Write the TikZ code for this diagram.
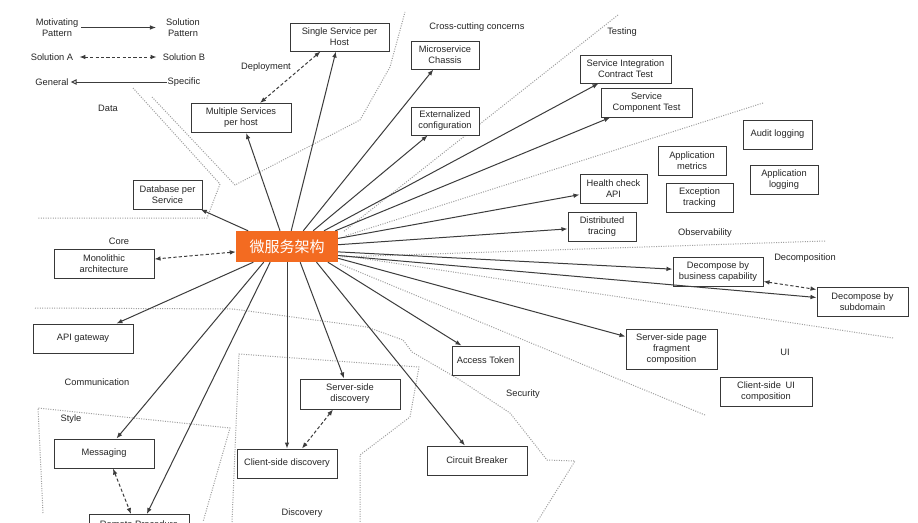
\documentclass[tikz,border=0pt]{standalone}
\usepackage{fontspec}
\setmainfont{Liberation Sans}
\newfontfamily\cjkfont{Noto Sans CJK SC}
\usetikzlibrary{arrows.meta,shadows,calc}

\definecolor{hub}{HTML}{F36B21}
\definecolor{ink}{HTML}{262626}
\definecolor{wire}{HTML}{3C3C3C}

\begin{document}
\begin{tikzpicture}[x=1pt,y=-1pt,
  every node/.style={font=\fontsize{9.3}{11}\selectfont, text=ink},
  lbl/.style={inner sep=1pt, align=center},
  pbox/.style={draw=black!78, line width=1pt, fill=white, align=center,
    inner sep=1pt, minimum height=29pt,
    drop shadow={shadow xshift=0.9pt,shadow yshift=-0.9pt,fill=black!45,opacity=0.55}},
  arr/.style={draw=wire, line width=1pt, -{Latex[length=6pt,width=4.6pt]}},
  dbl/.style={draw=wire, line width=1pt, dash pattern=on 3.2pt off 2.2pt,
    {Latex[length=6pt,width=4.6pt]}-{Latex[length=6pt,width=4.6pt]}},
  gen/.style={draw=wire, line width=1pt, -{Triangle[open,length=6pt,width=5.5pt]}},
  zone/.style={draw=black!38, line width=1pt, dash pattern=on 1pt off 1.4pt}
]
\clip (0,0) rectangle (918,522);
\useasboundingbox (0,0) rectangle (918,522);
\fill[white] (0,0) rectangle (918,522);

% ---- dotted zone boundaries ----
\draw[zone] (133,88) -- (220,184) -- (207,218) -- (38,218);
\draw[zone] (152,97) -- (235,185) -- (360,120) -- (390,67) -- (405,12);
\draw[zone] (618,15) -- (343,232);
\draw[zone] (763,103) -- (345,236);
\draw[zone] (825,241) -- (340,257);
\draw[zone] (893,338) -- (340,255);
\draw[zone] (705,415) -- (340,264);
\draw[zone] (35,308) -- (233,309) -- (367,327) -- (403,340) -- (412,352)
  -- (460,380) -- (510,413) -- (547,460) -- (575,461) -- (537,522);
\draw[zone] (232,522) -- (239,354) -- (419,367) -- (410,417) -- (360,455) -- (360,522);
\draw[zone] (43,513) -- (38,408) -- (230,428) -- (203,522);

% ---- zone titles ----
\node[lbl] (tdata) at (108,108) {Data};
\node[lbl] (tdeploy) at (266,67) {Deployment};
\node[lbl] (tcross) at (477,27) {Cross-cutting concerns};
\node[lbl] (ttest) at (622,32) {Testing};
\node[lbl] (tcore) at (119,241) {Core};
\node[lbl] (tobs) at (705,233) {Observability};
\node[lbl] (tdecomp) at (805,258) {Decomposition};
\node[lbl] (tui) at (785,352) {UI};
\node[lbl] (tcomm) at (97,382) {Communication};
\node[lbl] (tstyle) at (71,419) {Style};
\node[lbl] (tsec) at (523,394) {Security};
\node[lbl] (tdisc) at (302,513) {Discovery};

% ---- legend ----
\node[lbl] (lgm) at (57,27.5) {Motivating\\Pattern};
\node[lbl] (lgs) at (183,27.5) {Solution\\Pattern};
\node[lbl] (lga) at (52,57) {Solution A};
\node[lbl] (lgb) at (184,57) {Solution B};
\node[lbl] (lgg) at (52,82) {General};
\node[lbl] (lgp) at (184,82) {Specific};
\draw[arr] ([xshift=2pt]lgm.east) -- ([xshift=-9pt]lgs.west);
\draw[dbl] ([xshift=5pt]lga.east) -- ([xshift=-5pt]lgb.west);
\draw[gen] (lgp.west) -- ([xshift=1pt]lgg.east);

% ---- central pattern ----
\node[fill=hub, minimum width=102pt, minimum height=31pt, inner sep=0pt,
  text=white, font=\cjkfont\fontsize{15}{17}\selectfont] (c) at (287,246.5) {微服务架构};

% ---- pattern boxes ----
\node[pbox, minimum width=99pt, minimum height=28pt] (single) at (339.5,37) {Single Service per\\Host};
\node[pbox, minimum width=100pt] (mult) at (241,118) {Multiple Services\\per host};
\node[pbox, minimum width=68pt, minimum height=28pt] (chassis) at (445,55) {Microservice\\Chassis};
\node[pbox, minimum width=68pt, minimum height=28pt] (ext) at (445,121) {Externalized\\configuration};
\node[pbox, minimum width=69pt] (db) at (167.5,194.5) {Database per\\Service};
\node[pbox, minimum width=91pt, minimum height=28pt] (sict) at (625.5,69) {Service Integration\\Contract Test};
\node[pbox, minimum width=91pt] (sct) at (646.5,102.5) {Service\\Component Test};
\node[pbox, minimum width=69pt] (audit) at (777.5,134.5) {Audit logging};
\node[pbox, minimum width=68pt] (metrics) at (692,160.5) {Application\\metrics};
\node[pbox, minimum width=68pt] (applog) at (784,179.5) {Application\\logging};
\node[pbox, minimum width=67pt] (exc) at (699.5,197.5) {Exception\\tracking};
\node[pbox, minimum width=67pt] (health) at (613.5,188.5) {Health check\\API};
\node[pbox, minimum width=68pt] (dist) at (602,226.5) {Distributed\\tracing};
\node[pbox, minimum width=100pt] (mono) at (104,263.5) {Monolithic\\architecture};
\node[pbox, minimum width=100pt] (api) at (83,338.5) {API gateway};
\node[pbox, minimum width=90pt] (dbc) at (718,271.5) {Decompose by\\business capability};
\node[pbox, minimum width=91pt] (dsd) at (862.5,301.5) {Decompose by\\subdomain};
\node[pbox, minimum width=91pt, minimum height=40pt] (page) at (671.5,349) {Server-side page\\fragment\\composition};
\node[pbox, minimum width=92pt] (cui) at (766,391.5) {Client-side\enspace UI\\composition};
\node[pbox, minimum width=67pt] (token) at (485.5,360.5) {Access Token};
\node[pbox, minimum width=100pt] (breaker) at (477,460.5) {Circuit Breaker};
\node[pbox, minimum width=100pt, minimum height=30pt] (sdisc) at (350,394) {Server-side\\discovery};
\node[pbox, minimum width=100pt] (cdisc) at (287,463.5) {Client-side discovery};
\node[pbox, minimum width=100pt] (msg) at (104,453.5) {Messaging};
\node[pbox, minimum width=100pt, minimum height=31pt] (rpi) at (139,530) {Remote Procedure\\Invocation};

% ---- connectors from the central pattern ----
\draw[arr] (c.158.8) -- (db);
\draw[arr] (c.114.3) -- (mult);
\draw[arr] (c.75.5) -- (single);
\draw[arr] (c.44.1) -- (chassis);
\draw[arr] (c.31.8) -- (ext);
\draw[arr] (c.23.9) -- (sict);
\draw[arr] (c.18.6) -- (sct);
\draw[arr] (c.9.5) -- (health);
\draw[arr] (c.2.8) -- (dist);
\draw[arr] (c.-6.2) -- (dbc);
\draw[arr] (c.-10.5) -- (dsd);
\draw[arr] (c.-13.8) -- (page);
\draw[arr] (c.-21.2) -- (token);
\draw[arr] (c.-28.1) -- (breaker);
\draw[arr] (c.-50) -- (sdisc);
\draw[arr] (c.south) -- (cdisc);
\draw[arr] (c.-137.6) -- (rpi);
\draw[arr] (c.-146) -- (msg);
\draw[arr] (c.-155.5) -- (api);
\draw[dbl] (c.186.2) -- (mono);

% ---- alternatives ----
\draw[dbl] ([xshift=19pt]mult.north) -- ([xshift=-19pt]single.south);
\draw[dbl] ($(dbc.south east)+(0,-5)$) -- ($(dsd.north west)+(0,3)$);
\draw[dbl] ([xshift=-17pt]sdisc.south) -- ([xshift=15pt]cdisc.north);
\draw[dbl] ([xshift=9pt]msg.south) -- ([xshift=-8pt]rpi.north);
\end{tikzpicture}
\end{document}
